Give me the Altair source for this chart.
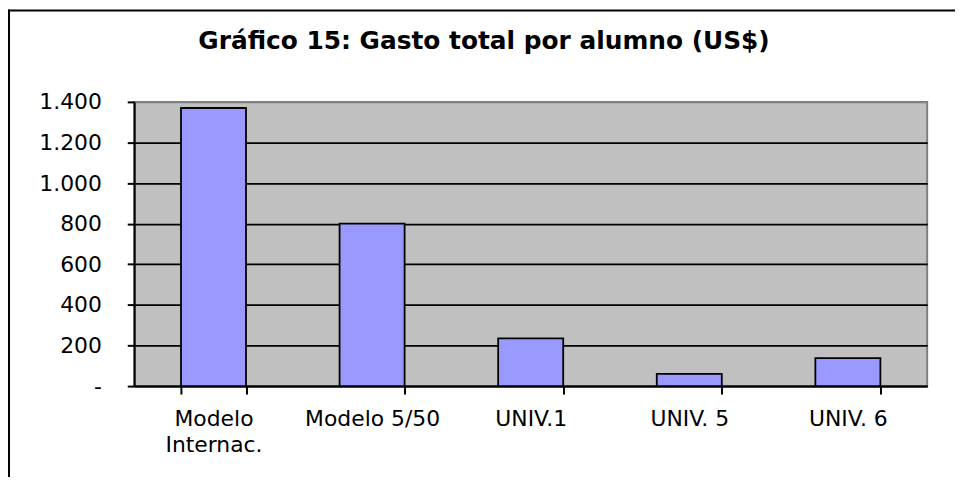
import altair as alt
import pandas as pd

categories = ["Modelo Internac.", "Modelo 5/50", "UNIV.1", "UNIV. 5", "UNIV. 6"]
values = [1370, 800, 235, 60, 138]
y_ticks = [0, 200, 400, 600, 800, 1000, 1200, 1400]
title_text = "Gráfico 15:  Gasto total por alumno (US$)"

FONT = "DejaVu Sans"

df = pd.DataFrame({"categoria": categories, "gasto": values})

bars = alt.Chart(df).mark_bar(
    color="#9999FF", stroke="black", strokeWidth=1.8
).encode(
    x=alt.X(
        "categoria:N",
        sort=categories,
        scale=alt.Scale(paddingInner=0.59, paddingOuter=0.295),
        axis=alt.Axis(
            title=None,
            labelAngle=0,
            tickBand="extent",
            labelExpr="datum.value == 'Modelo Internac.' ? ['Modelo', 'Internac.'] : datum.label",
            labelLineHeight=26,
            labelFont=FONT,
            labelFontSize=22,
            labelColor="black",
            labelPadding=15,
            domainColor="black",
            domainWidth=2,
            tickColor="black",
            tickWidth=2,
            tickSize=8,
            grid=False,
        ),
    ),
    y=alt.Y(
        "gasto:Q",
        scale=alt.Scale(domain=[0, 1400], nice=False),
        axis=alt.Axis(
            title=None,
            values=y_ticks,
            labelExpr="datum.value == 0 ? '-\u2007\u2007' : replace(format(datum.value, ','), ',', '.')",
            labelFont=FONT,
            labelFontSize=22,
            labelColor="black",
            labelPadding=26,
            domainColor="black",
            domainWidth=2,
            tickColor="black",
            tickWidth=2,
            tickSize=7,
            grid=True,
            gridColor={"condition": {"test": "datum.value >= 1400", "value": "#808080"}, "value": "black"},
            gridWidth=1.8,
        ),
    ),
)

frame_df = pd.DataFrame({"k": [0]})
frame_left = alt.Chart(frame_df).mark_rule(color="black", strokeWidth=2).encode(
    x=alt.value(-126), y=alt.value(-93), y2=alt.value(383)
)
frame_top = alt.Chart(frame_df).mark_rule(color="black", strokeWidth=2).encode(
    x=alt.value(-127), x2=alt.value(826), y=alt.value(-92)
)
title_mark = alt.Chart(pd.DataFrame({"t": [title_text]})).mark_text(
    font=FONT, fontSize=25, fontWeight="bold", color="black",
    align="center", baseline="alphabetic"
).encode(
    text="t:N", x=alt.value(352), y=alt.value(-53)
)

chart = alt.layer(bars, frame_left, frame_top, title_mark).properties(
    width=798,
    height=286,
    padding={"left": 127, "top": 93, "right": 28, "bottom": 90},
    autosize=alt.AutoSizeParams(type="none"),
    background="white",
).configure_view(
    fill="#C0C0C0", stroke="#808080", strokeWidth=2
)

chart.save("out.html", embed_options={"renderer": "svg", "actions": False})
